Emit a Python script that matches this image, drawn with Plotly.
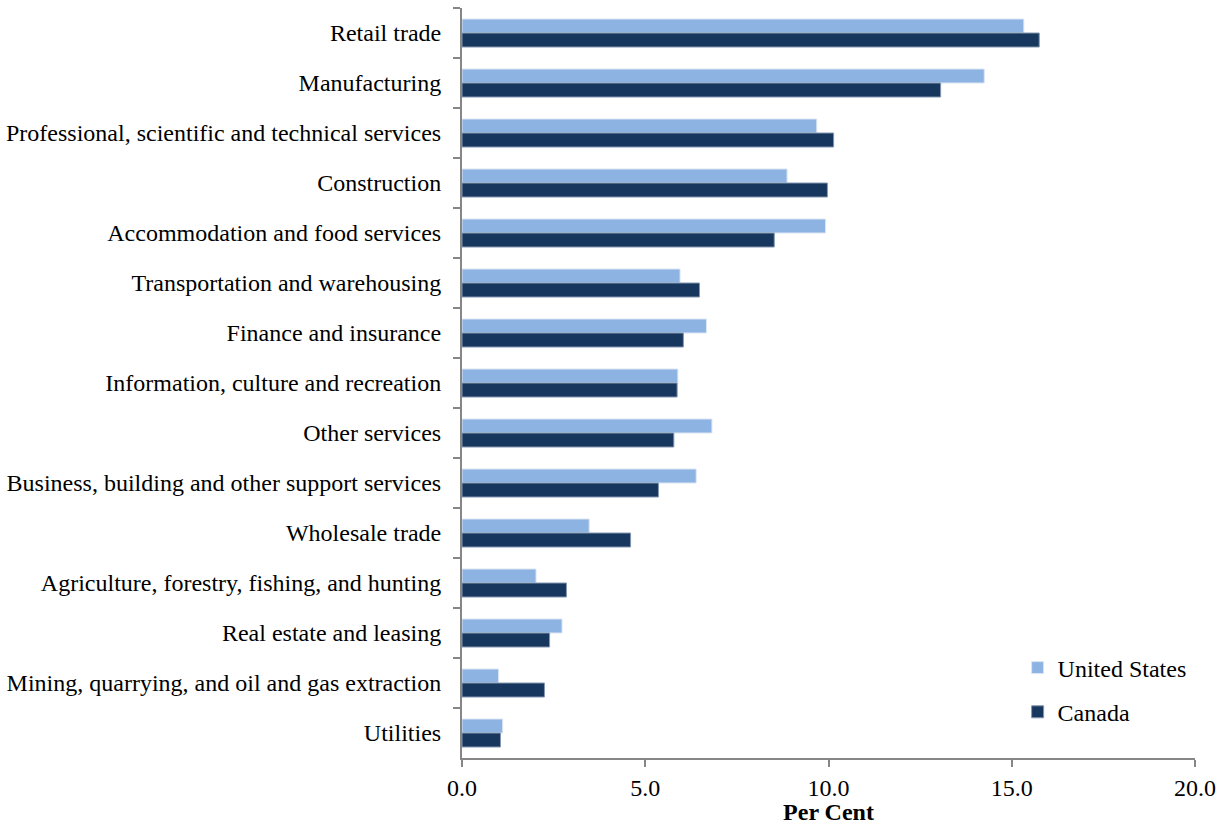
import plotly.graph_objects as go

industries = [
    "Retail trade",
    "Manufacturing",
    "Professional, scientific and technical services",
    "Construction",
    "Accommodation and food services",
    "Transportation and warehousing",
    "Finance and insurance",
    "Information, culture and recreation",
    "Other services",
    "Business, building and other support services",
    "Wholesale trade",
    "Agriculture, forestry, fishing, and hunting",
    "Real estate and leasing",
    "Mining, quarrying, and oil and gas extraction",
    "Utilities",
]
united_states = [15.33, 14.25, 9.68, 8.87, 9.92, 5.95, 6.67, 5.89, 6.82, 6.39, 3.47, 2.02, 2.73, 1.00, 1.11]
canada = [15.75, 13.06, 10.14, 9.97, 8.52, 6.48, 6.04, 5.87, 5.78, 5.36, 4.60, 2.85, 2.39, 2.25, 1.05]

x_ticks = [0, 5, 10, 15, 20]
x_tick_labels = ["0.0", "5.0", "10.0", "15.0", "20.0"]

FONT = "Liberation Serif, Times New Roman, serif"
AXIS_GREY = "#868686"
FS = 24

fig = go.Figure()
fig.add_trace(go.Bar(
    y=industries, x=united_states, orientation="h", name="United States",
    marker=dict(color="#8DB3E2", line=dict(color="#DCE6F2", width=1)),
    legendgroup="us",
))
fig.add_trace(go.Bar(
    y=industries, x=canada, orientation="h", name="Canada",
    marker=dict(color="#17375E", line=dict(color="#8497B0", width=1)),
    legendgroup="ca",
))

fig.update_layout(
    width=1229, height=825,
    margin=dict(l=462, r=34, t=8, b=67),
    paper_bgcolor="white", plot_bgcolor="white",
    barmode="group", bargap=0.44, bargroupgap=0,
    font=dict(family=FONT, size=FS, color="black"),
    legend=dict(
        x=0.758, y=0.150, xanchor="left", yanchor="top",
        font=dict(family=FONT, size=FS, color="black"),
        tracegroupgap=10, bgcolor="rgba(0,0,0,0)",
        itemwidth=30,
    ),
    showlegend=True,
)

fig.update_xaxes(
    range=[0, 20], tickvals=x_ticks, ticktext=x_tick_labels,
    showgrid=False, zeroline=False, automargin=False,
    showline=True, linecolor=AXIS_GREY, linewidth=2,
    ticks="outside", ticklen=7, tickwidth=2, tickcolor=AXIS_GREY,
    tickfont=dict(family=FONT, size=FS, color="black"),
    title=dict(text="<b>Per Cent</b>", font=dict(family=FONT, size=FS, color="black"), standoff=0),
)
fig.update_yaxes(
    type="category", autorange="reversed",
    showgrid=False, zeroline=False, automargin=False,
    showline=True, linecolor=AXIS_GREY, linewidth=2,
    ticks="outside", ticklen=7, tickwidth=2, tickcolor=AXIS_GREY,
    tickson="boundaries", ticklabelstandoff=14,
    tickfont=dict(family=FONT, size=FS, color="black"),
)

fig.write_html("out.html")
